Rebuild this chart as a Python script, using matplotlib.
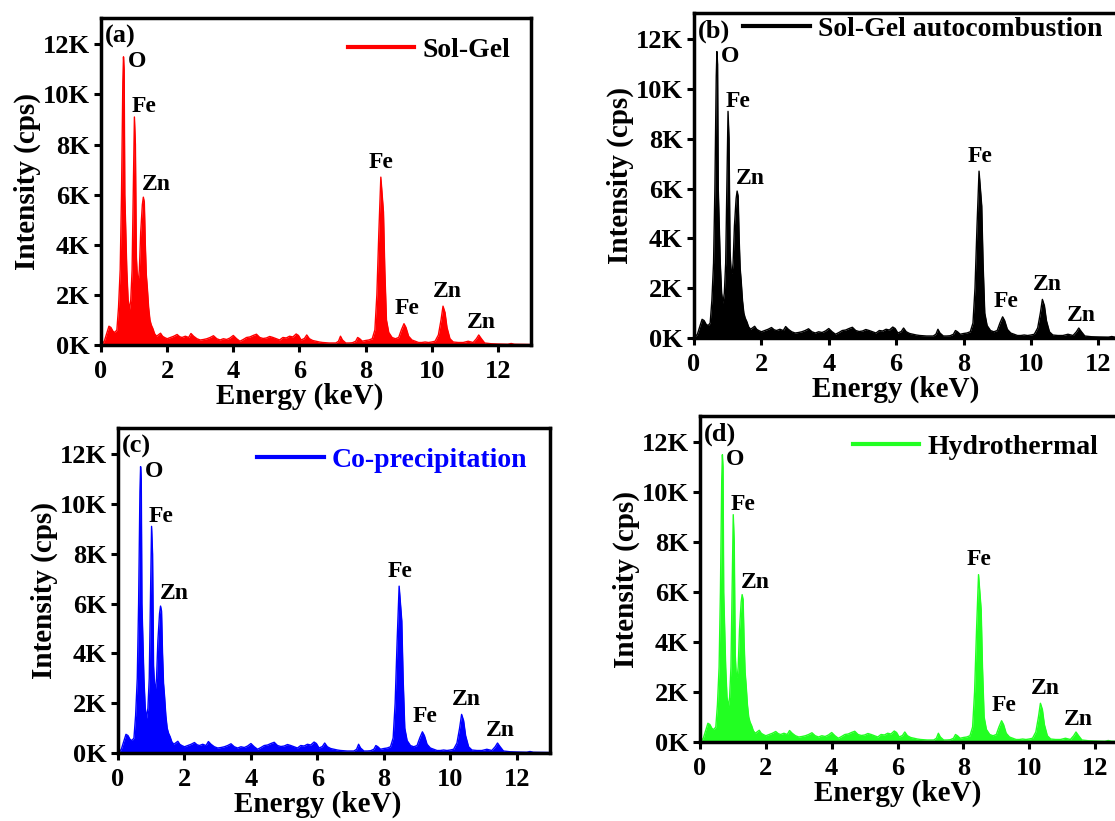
import matplotlib
matplotlib.use("Agg")
import matplotlib.pyplot as plt
from matplotlib.lines import Line2D

plt.rcParams['font.family'] = ['Liberation Serif', 'DejaVu Serif']
plt.rcParams['font.weight'] = 'bold'

# ---------------- data ----------------
energy = [0.00, 0.10, 0.18, 0.24, 0.30, 0.36, 0.42, 0.48, 0.53, 0.58, 0.62, 0.66, 0.68,
          0.70, 0.72, 0.75, 0.78, 0.82, 0.86, 0.90, 0.94, 0.98, 1.01, 1.04, 1.07, 1.10,
          1.13, 1.16, 1.20, 1.25, 1.28, 1.31, 1.34, 1.37, 1.40, 1.44, 1.48, 1.52, 1.57,
          1.62, 1.68, 1.75, 1.80, 1.86, 1.92, 2.00, 2.10, 2.20, 2.30, 2.38, 2.45, 2.55,
          2.65, 2.72, 2.80, 2.90, 3.00, 3.10, 3.20, 3.30, 3.40, 3.50, 3.60, 3.70, 3.80,
          3.90, 4.00, 4.10, 4.20, 4.30, 4.40, 4.50, 4.60, 4.70, 4.80, 4.90, 5.00, 5.10,
          5.20, 5.30, 5.40, 5.50, 5.60, 5.70, 5.80, 5.90, 5.97, 6.05, 6.15, 6.22, 6.30,
          6.40, 6.50, 6.60, 6.70, 6.80, 6.90, 7.00, 7.10, 7.18, 7.24, 7.30, 7.40, 7.50,
          7.60, 7.70, 7.76, 7.82, 7.90, 8.00, 8.10, 8.20, 8.28, 8.34, 8.40, 8.46, 8.50,
          8.54, 8.58, 8.63, 8.70, 8.80, 8.90, 9.00, 9.08, 9.16, 9.22, 9.30, 9.40, 9.50,
          9.60, 9.70, 9.80, 9.90, 10.00, 10.10, 10.20, 10.28, 10.34, 10.40, 10.46, 10.55,
          10.65, 10.80, 10.95, 11.10, 11.25, 11.35, 11.42, 11.50, 11.60, 11.80, 12.00,
          12.30, 12.40, 12.50, 13.00]
counts = [0, 150, 500, 750, 700, 550, 500, 600, 1500, 3000, 6000, 10500, 11500,
          11000, 6000, 4500, 3000, 1800, 1400, 1800, 3000, 6500, 9100, 8000, 3500, 2700,
          2600, 3000, 4500, 5600, 5900, 5700, 4000, 2800, 2300, 1500, 1000, 800, 650,
          450, 350, 420, 470, 350, 300, 250, 300, 350, 420, 330, 300, 350,
          300, 460, 350, 250, 200, 220, 250, 300, 370, 250, 200, 250, 220,
          280, 380, 250, 150, 220, 300, 320, 380, 430, 300, 260, 280, 340,
          300, 250, 200, 300, 280, 350, 320, 440, 380, 200, 260, 400, 250,
          180, 150, 120, 100, 90, 80, 80, 80, 150, 350, 200, 80, 80,
          90, 150, 300, 250, 150, 180, 200, 250, 600, 2000, 4500, 6700, 6000,
          5300, 3000, 1000, 500, 300, 250, 300, 600, 850, 700, 350, 200, 150,
          100, 100, 120, 100, 120, 150, 400, 1000, 1550, 1300, 700, 250,
          120, 100, 100, 150, 100, 250, 400, 250, 80, 50, 40,
          30, 60, 30, 20]

panel_tags = ['(a)', '(b)', '(c)', '(d)']
methods = ['Sol-Gel', 'Sol-Gel autocombustion', 'Co-precipitation', 'Hydrothermal']
colors = ['#ff0000', '#000000', '#0000ff', '#22ff22']
legend_text_colors = ['#000000', '#000000', '#0000ff', '#000000']

peak_labels = ['O', 'Fe', 'Zn', 'Fe', 'Fe', 'Zn', 'Zn']
label_x = [0.80, 0.93, 1.25, 8.48, 9.25, 10.48, 11.50]
label_y = [11300, 9500, 6400, 7300, 1450, 2150, 900]
label_ha = ['left', 'left', 'left', 'center', 'center', 'center', 'center']

y_ticks = [0, 2000, 4000, 6000, 8000, 10000, 12000]
y_ticklabels = ['0K', '2K', '4K', '6K', '8K', '10K', '12K']
x_ticks = [0, 2, 4, 6, 8, 10, 12]

# ---------------- layout ----------------
W, H = 1115, 821
# (left, right, top, bottom) in pixels
boxes = [(101, 531, 18, 345), (694, 1132, 13, 338),
         (118, 550, 428, 753), (700, 1128, 416, 742)]
legend_anchor = [(0.574, 0.902), (0.112, 0.951), (0.322, 0.900), (0.357, 0.905)]

fig = plt.figure(figsize=(W / 100, H / 100), dpi=100)

for i in range(4):
    l, r, t, b = boxes[i]
    ax = fig.add_axes([l / W, (H - b) / H, (r - l) / W, (b - t) / H])
    c = colors[i]
    ax.fill_between(energy, counts, 0, color=c, lw=0)
    ax.plot(energy, counts, color=c, lw=1)
    ax.set_xlim(0, 13)
    ax.set_ylim(0, 13050)
    ax.set_xticks(x_ticks)
    ax.set_xticklabels([str(v) for v in x_ticks])
    ax.set_yticks(y_ticks)
    ax.set_yticklabels(y_ticklabels)
    ax.tick_params(axis='x', direction='out', length=5, width=2.2, labelsize=19, pad=6)
    ax.tick_params(axis='y', direction='out', length=5, width=2.2, labelsize=19, pad=3)
    for lab in ax.get_xticklabels() + ax.get_yticklabels():
        lab.set_fontweight('bold')
    for s in ax.spines.values():
        s.set_linewidth(2.5)
    ax.set_xlabel('Energy (keV)', fontsize=21, fontweight='bold', labelpad=2)
    ax.xaxis.set_label_coords(6 / 13, -0.115)
    ax.set_ylabel('Intensity (cps)', fontsize=21, fontweight='bold', labelpad=1)

    for name, px, py, ha in zip(peak_labels, label_x, label_y, label_ha):
        ax.text(px, py, name, ha=ha, va='center', fontsize=17, fontweight='bold')
    ax.text(0.12, 12300, panel_tags[i], ha='left', va='center', fontsize=19,
            fontweight='bold')

    h = Line2D([], [], color=c, lw=3)
    leg = ax.legend([h], [methods[i]], loc='center left',
                    bbox_to_anchor=legend_anchor[i], frameon=False,
                    borderpad=0, borderaxespad=0, handlelength=2.4,
                    handletextpad=0.29, prop={'size': 20, 'weight': 'bold'})
    for txt in leg.get_texts():
        txt.set_color(legend_text_colors[i])

fig.savefig('out.png', dpi=100)
